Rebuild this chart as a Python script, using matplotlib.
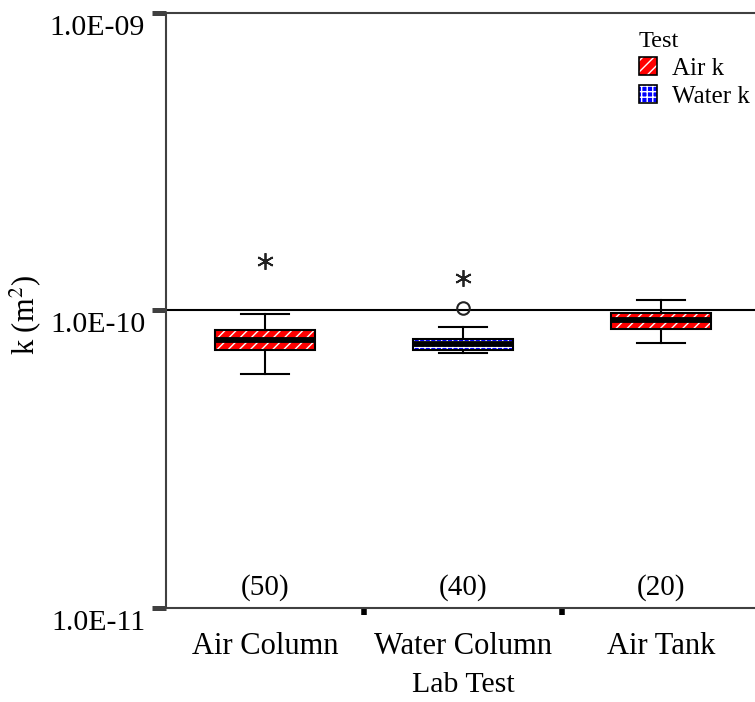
import matplotlib.pyplot as plt
import matplotlib.transforms as mtransforms
from matplotlib.patches import Patch, PathPatch
from matplotlib.legend_handler import HandlerTuple

plt.rcParams['font.family'] = ['Liberation Serif', 'DejaVu Serif']
plt.rcParams['mathtext.fontset'] = 'stix'

# permeability summary per lab test (m^2)
tests = ['Air Column', 'Water Column', 'Air Tank']
counts = ['(50)', '(40)', '(20)']
whisker_lo = [6.12e-11, 7.19e-11, 7.78e-11]
q1 = [7.36e-11, 7.36e-11, 8.67e-11]
medians = [7.96e-11, 7.72e-11, 9.29e-11]
q3 = [8.60e-11, 8.02e-11, 9.81e-11]
whisker_hi = [9.73e-11, 8.80e-11, 1.084e-10]
test_type = ['Air k', 'Water k', 'Air k']

# points outside the whiskers
extreme_x = [0, 1]
extreme_y = [1.47e-10, 1.285e-10]
outlier_x = [1]
outlier_y = [1.02e-10]

ref_k = 1.0e-10
yticks = [1e-11, 1e-10, 1e-9]
ytick_labels = ['1.0E-11', '1.0E-10', '1.0E-09']

styles = {'Air k': ('#ff0000', '///'), 'Water k': ('#0000ff', '+++')}

fig = plt.figure(figsize=(7.55, 7.02), dpi=100)
ax = fig.add_axes([0.2199, 0.1339, 0.7868, 0.8476])
ax.set_yscale('log')
ax.set_ylim(1e-11, 1e-9)
ax.set_xlim(-0.5, 2.5)

ax.axhline(ref_k, color='black', lw=1.5, zorder=1)

stats = []
for i in range(len(tests)):
    stats.append({'whislo': whisker_lo[i], 'q1': q1[i], 'med': medians[i],
                  'q3': q3[i], 'whishi': whisker_hi[i], 'fliers': []})

bp = ax.bxp(stats, positions=range(len(tests)), widths=0.505, capwidths=0.24,
            patch_artist=True, showfliers=False,
            whiskerprops=dict(color='black', lw=1.5),
            capprops=dict(color='black', lw=1.5),
            medianprops=dict(color='black', lw=4.2, solid_capstyle='butt'),
            boxprops=dict(lw=0))

for box, kind in zip(bp['boxes'], test_type):
    color, hatch = styles[kind]
    box.set_facecolor(color)
    box.set_edgecolor('white')
    box.set_hatch(hatch)
    box.set_linewidth(0)
    outline = PathPatch(box.get_path(), transform=box.get_transform(),
                        facecolor='none', edgecolor='black', lw=1.5, zorder=box.get_zorder() + 0.1)
    ax.add_patch(outline)

ax.plot(extreme_x, extreme_y, linestyle='none', marker=(6, 2, 0), markersize=12,
        markeredgecolor='#222222', markeredgewidth=1.3)
ax.plot(outlier_x, outlier_y, linestyle='none', marker='o', markersize=9,
        markerfacecolor='none', markeredgecolor='#222222', markeredgewidth=1.5)

for i, c in enumerate(counts):
    ax.text(i, 0.035, c, transform=ax.get_xaxis_transform(), ha='center', va='center',
            fontsize=21)

# axes frame
for s in ['left', 'bottom', 'top']:
    ax.spines[s].set_color('#404040')
    ax.spines[s].set_linewidth(1.5)
ax.spines['right'].set_visible(False)

ax.set_yticks(yticks, ytick_labels)
ax.minorticks_off()
ax.tick_params(axis='y', length=10, width=3.6, color='#404040', labelsize=21.5, pad=5)
offset = mtransforms.ScaledTranslation(0, -12 / 100, fig.dpi_scale_trans)
for lbl in ax.get_yticklabels():
    lbl.set_transform(lbl.get_transform() + offset)

ax.set_xticks(range(len(tests)), tests)
ax.set_xticks([0.5, 1.5], minor=True)
ax.tick_params(axis='x', which='major', length=0, labelsize=22, pad=17)
ax.tick_params(axis='x', which='minor', length=5, width=4, color='black')

ax.set_xlabel('Lab Test', fontsize=21.5, labelpad=8)
ax.set_ylabel('k (m$^2$)', fontsize=22)
ax.yaxis.set_label_coords(-0.207, 0.492)

handles = []
for kind in ['Air k', 'Water k']:
    color, hatch = styles[kind]
    fill = Patch(facecolor=color, edgecolor='white', hatch=hatch, lw=0)
    edge = Patch(facecolor='none', edgecolor='black', lw=1.2)
    handles.append((fill, edge))
leg = ax.legend(handles, ['Air k', 'Water k'], title='Test',
                handler_map={tuple: HandlerTuple(ndivide=1, pad=0)},
                loc='upper left', bbox_to_anchor=(0.758, 1.007), frameon=False,
                fontsize=18, title_fontsize=17.5, handlelength=0.72, handleheight=0.72,
                handletextpad=0.6, labelspacing=0.2, alignment='left')

fig.savefig('out.png', dpi=100)
